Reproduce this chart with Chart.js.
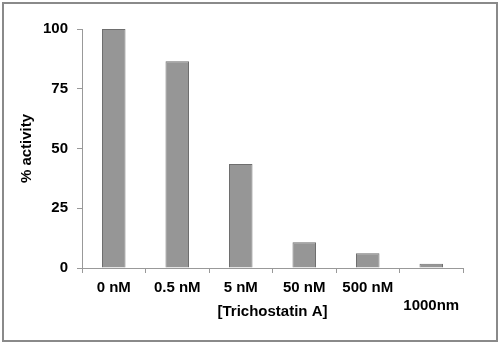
<!DOCTYPE html>
<html>
<head>
<meta charset="utf-8">
<script src="https://cdn.jsdelivr.net/npm/chart.js@4"></script>
<style>
    body { margin: 0; background: #fff; }
    #wrap { width: 500px; height: 345px; position: relative; }
</style>
</head>
<body>
<div id="wrap"><canvas id="chart" width="500" height="345"></canvas></div>
<script>
// datos
const categories = ['0 nM', '0.5 nM', '5 nM', '50 nM', '500 nM', ['', '1000nm']];
const activity = [100, 86.5, 43.5, 10.8, 6.2, 1.8];
const yTicks = [0, 25, 50, 75, 100];

const FONT = "'Liberation Sans', Arial, sans-serif";

// marco gris alrededor de todo
const frame = {
    id: 'frame',
    afterDraw(chart) {
        const ctx = chart.ctx;
        ctx.save();
        ctx.strokeStyle = '#8a8a8a';
        ctx.lineWidth = 2;
        ctx.strokeRect(3, 3, 494, 338);
        ctx.restore();
    }
};

const ctx = document.getElementById('chart').getContext('2d');
new Chart(ctx, {
    type: 'bar',
    data: {
        labels: categories,
        datasets: [{
            data: activity,
            backgroundColor: '#969696',
            borderColor: '#6e6e6e',
            borderWidth: 1,
            categoryPercentage: 1,
            barPercentage: 0.37
        }]
    },
    options: {
        responsive: false,
        animation: false,
        layout: { padding: { left: 0, top: 29, right: 37, bottom: 0 } },
        plugins: { legend: { display: false }, tooltip: { enabled: false } },
        scales: {
            x: {
                afterFit: s => { s.height = 77; },
                grid: { drawOnChartArea: false, color: '#999', tickLength: 5, offset: true },
                border: { color: '#999', width: 1 },
                ticks: { color: '#000', padding: 6, maxRotation: 0, font: { family: FONT, size: 15, weight: 'bold' } },
                title: {
                    display: true,
                    text: '[Trichostatin A]',
                    color: '#000',
                    padding: { top: 0, bottom: 24 },
                    font: { family: FONT, size: 15, weight: 'bold' }
                }
            },
            y: {
                min: 0,
                max: 100,
                afterFit: s => { s.width = 82; },
                afterBuildTicks: s => { s.ticks = yTicks.map(v => ({ value: v })); },
                grid: { drawOnChartArea: false, color: '#999', tickLength: 5 },
                border: { color: '#999', width: 1 },
                ticks: { color: '#000', padding: 9, font: { family: FONT, size: 15, weight: 'bold' } },
                title: {
                    display: true,
                    text: '% activity',
                    color: '#000',
                    padding: { top: 18, bottom: 0 },
                    font: { family: FONT, size: 15, weight: 'bold' }
                }
            }
        }
    },
    plugins: [frame]
});
</script>
</body>
</html>
